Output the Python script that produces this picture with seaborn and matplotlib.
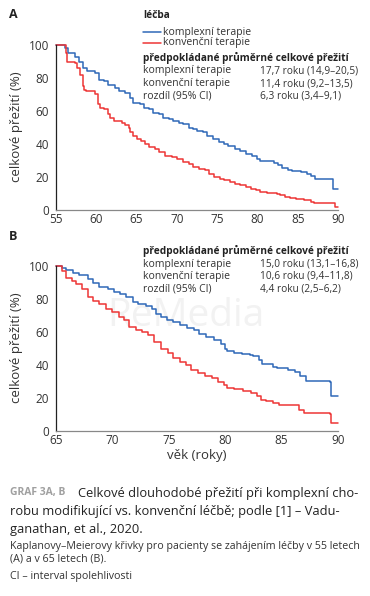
import numpy as np
import pandas as pd
import seaborn as sns
import matplotlib.pyplot as plt

# Kaplan-Meier curves (age, survival %), step-post
a_komplex_age = [55, 56.1, 56.5, 57.3, 57.8, 58.4, 58.8, 59.8, 60.3, 60.9, 61.5, 62.3, 62.8, 63.6, 64.2, 64.6,
                 65.4, 65.9, 66.6, 67.1, 67.8, 68.3, 69, 69.5, 70.3, 70.8, 71.5, 72, 72.5, 73.3, 73.8, 74.5,
                 75.2, 75.8, 76.4, 77.2, 77.8, 78.6, 79.3, 79.9, 80.3, 81.2, 82, 82.6, 83.1, 83.8, 84.3, 85.4,
                 86.2, 86.7, 87.2, 89.4, 90]
a_komplex_surv = [100, 98, 95, 93, 90, 86, 84, 83, 79, 78, 76, 74, 72, 71, 68, 65,
                  64, 62, 61, 59, 58, 56, 55, 54, 53, 52, 50, 49, 48, 47, 45, 43,
                  41, 40, 38.5, 37, 35.5, 34, 32.5, 31, 30, 29.5, 28.5, 27, 25.5, 24.5, 23.5, 23,
                  22, 20.5, 19, 13, 13]
a_konv_age = [55, 56.2, 56.4, 57.3, 57.6, 58, 58.3, 58.5, 58.7, 59.8, 60.2, 60.5, 61, 61.4, 61.7, 62.2,
              63.2, 63.6, 64, 64.2, 64.5, 65, 65.6, 66, 66.6, 67.3, 67.8, 68.5, 69.4, 70, 70.8, 71.5,
              72, 72.8, 73.5, 74, 74.6, 75.3, 75.9, 76.6, 77.2, 77.8, 78.6, 79.2, 79.8, 80.3, 81.2, 82.4,
              82.8, 83.4, 84, 84.8, 85.8, 86.6, 87, 89.6, 90]
a_konv_surv = [100, 95, 90, 89, 86, 82, 75, 73, 72, 70, 64, 62, 61, 58, 56, 54,
               53, 51.5, 50, 47, 45, 43, 42, 40, 38, 37, 35, 33, 32, 31, 29, 28,
               26, 25, 24, 22, 20, 19, 18, 17, 16, 15, 14, 13, 12, 11, 10.5, 10,
               9, 8, 7.5, 6.5, 6, 5, 4.5, 2, 2]

b_komplex_age = [65, 65.5, 65.9, 66.5, 67, 67.8, 68.3, 68.8, 69.6, 70.1, 70.7, 71.2, 71.8, 72.3, 73, 73.5,
                 73.9, 74.3, 74.8, 75.4, 76, 76.6, 77.2, 77.7, 78.3, 79, 79.6, 80, 80.2, 80.8, 81.5, 82.2,
                 82.5, 83, 83.3, 84.2, 84.6, 85.6, 86.2, 86.6, 87.2, 89.3, 89.4, 90]
b_komplex_surv = [100, 99, 97.5, 96, 94.5, 92, 90, 87, 86, 84.5, 83, 81, 78, 77, 76, 74,
                  71, 69, 67, 66, 64.5, 62.5, 61, 59, 57, 55, 53, 50, 48.5, 47.5, 46.5, 46,
                  45.5, 43, 40.5, 39, 38, 37, 35.5, 33.5, 30.5, 30, 21, 21]
b_konv_age = [65, 65.5, 65.9, 66.4, 66.8, 67.3, 67.8, 68.3, 68.8, 69.4, 70, 70.6, 71, 71.5, 72.1, 72.6,
              73.2, 73.7, 74.3, 74.9, 75.4, 76, 76.5, 77, 77.6, 78.2, 78.8, 79.4, 79.9, 80.2, 80.8, 81.6,
              82.3, 82.8, 83.2, 83.6, 84.2, 84.8, 86, 86.5, 87, 89.3, 89.4, 90]
b_konv_surv = [100, 97, 93, 91, 89, 86, 81, 79, 77, 74, 72, 69, 67, 63, 61.5, 60,
               58, 54, 50, 47, 44.5, 42, 40, 37, 35, 33.5, 32, 30, 28, 26, 25.5, 24.5,
               23, 21, 19, 18, 17, 16, 15.5, 13, 11, 10.5, 5, 5]

groups = ["komplexní terapie", "konvenční terapie"]
colors = {"komplexní terapie": "#2f68b8", "konvenční terapie": "#ee3535"}
y_ticks = [0, 20, 40, 60, 80, 100]
a_ticks = [55, 60, 65, 70, 75, 80, 85, 90]
b_ticks = [65, 70, 75, 80, 85, 90]

a_rows = [("komplexní terapie", "17,7 roku (14,9–20,5)"),
          ("konvenční terapie", "11,4 roku (9,2–13,5)"),
          ("rozdíl (95% CI)", "6,3 roku (3,4–9,1)")]
b_rows = [("komplexní terapie", "15,0 roku (13,1–16,8)"),
          ("konvenční terapie", "10,6 roku (9,4–11,8)"),
          ("rozdíl (95% CI)", "4,4 roku (2,5–6,2)")]


def make_df(ak, sk, av, sv):
    return pd.concat([
        pd.DataFrame({"age": ak, "surv": sk, "lecba": groups[0]}),
        pd.DataFrame({"age": av, "surv": sv, "lecba": groups[1]}),
    ])


sns.set_style("white")
plt.rcParams["font.family"] = ["Open Sans", "DejaVu Sans"]
TXT = "#333333"

W, H = 370, 596
fig = plt.figure(figsize=(W / 100, H / 100), dpi=100)


def px(x, y):
    return x / W, 1 - y / H


def add_panel(top, df, xticks):
    ax = fig.add_axes([56 / W, 1 - (top + 165) / H, 282 / W, 165 / H])
    sns.lineplot(data=df, x="age", y="surv", hue="lecba", palette=colors,
                 drawstyle="steps-post", estimator=None, linewidth=1.1, ax=ax, legend=False)
    ax.set_xlim(xticks[0], xticks[-1])
    ax.set_ylim(0, 100)
    ax.set_xticks(xticks)
    ax.set_yticks(y_ticks)
    ax.set_xlabel("")
    ax.set_ylabel("")
    sns.despine(ax=ax)
    ax.spines["left"].set_color("#222222")
    ax.spines["bottom"].set_color("#888888")
    ax.spines["left"].set_linewidth(0.9)
    ax.spines["bottom"].set_linewidth(0.9)
    ax.tick_params(axis="y", direction="out", length=3, width=0.8, color="#444444",
                   labelsize=8.5, labelcolor=TXT, pad=2)
    ax.tick_params(axis="x", direction="in", length=3, width=0.8, color="#444444",
                   labelsize=8.5, labelcolor=TXT, pad=2)
    for ln in ax.lines:
        ln.set_clip_on(False)
    return ax


axA = add_panel(45, make_df(a_komplex_age, a_komplex_surv, a_konv_age, a_konv_surv), a_ticks)
axB = add_panel(266, make_df(b_komplex_age, b_komplex_surv, b_konv_age, b_konv_surv), b_ticks)

# faint watermark behind panel B
axB.text(0.46, 0.70, "ReMedia", transform=axB.transAxes, ha="center", va="center",
         fontsize=28, color="#f2f2f2", zorder=0)

# axis labels
for yc in (127, 348):
    fig.text(*px(17, yc), "celkové přežití (%)", rotation=90, ha="center", va="center",
             fontsize=9.5, color=TXT)
fig.text(*px(197, 456), "věk (roky)", ha="center", va="center", fontsize=9.5, color=TXT)

# panel letters
fig.text(*px(9, 14), "A", fontsize=9, fontweight="bold", va="center", color="#222222")
fig.text(*px(9, 237), "B", fontsize=9, fontweight="bold", va="center", color="#222222")

# legend for panel A
fig.text(*px(143, 16), "léčba", fontsize=7.3, fontweight="bold", va="center", color="#222222")
for g, yy in zip(groups, (32, 43)):
    fig.add_artist(plt.Line2D([143 / W, 161 / W], [1 - yy / H, 1 - yy / H],
                              color=colors[g], linewidth=1.1))
    fig.text(*px(163, yy), g, fontsize=7.5, va="center", color=TXT)


def table(top, rows):
    fig.text(*px(143, top), "předpokládané průměrné celkové přežití", fontsize=7.3,
             fontweight="bold", va="center", color="#222222")
    for i, (lab, val) in enumerate(rows):
        yy = top + 13 + 12.5 * i
        fig.text(*px(143, yy), lab, fontsize=7.5, va="center", color=TXT)
        fig.text(*px(260, yy), val, fontsize=7.3, va="center", color=TXT)


table(58, a_rows)
table(251, b_rows)

# caption
fig.text(*px(10, 493), "GRAF 3A, B", fontsize=7.5, fontweight="bold", va="center", color="#a0a0a0")
fig.text(*px(78, 493), "Celkové dlouhodobé přežití při komplexní cho-", fontsize=9.3,
         va="center", color="#222222")
fig.text(*px(10, 512), "robu modifikující vs. konvenční léčbě; podle [1] – Vadu-", fontsize=9.3,
         va="center", color="#222222")
fig.text(*px(10, 530), "ganathan, et al., 2020.", fontsize=9.3, va="center", color="#222222")
fig.text(*px(10, 547), "Kaplanovy–Meierovy křivky pro pacienty se zahájením léčby v 55 letech",
         fontsize=7.7, va="center", color=TXT)
fig.text(*px(10, 559), "(A) a v 65 letech (B).", fontsize=7.7, va="center", color=TXT)
fig.text(*px(10, 576), "CI – interval spolehlivosti", fontsize=7.7, va="center", color=TXT)

fig.savefig("out.png", dpi=100)
